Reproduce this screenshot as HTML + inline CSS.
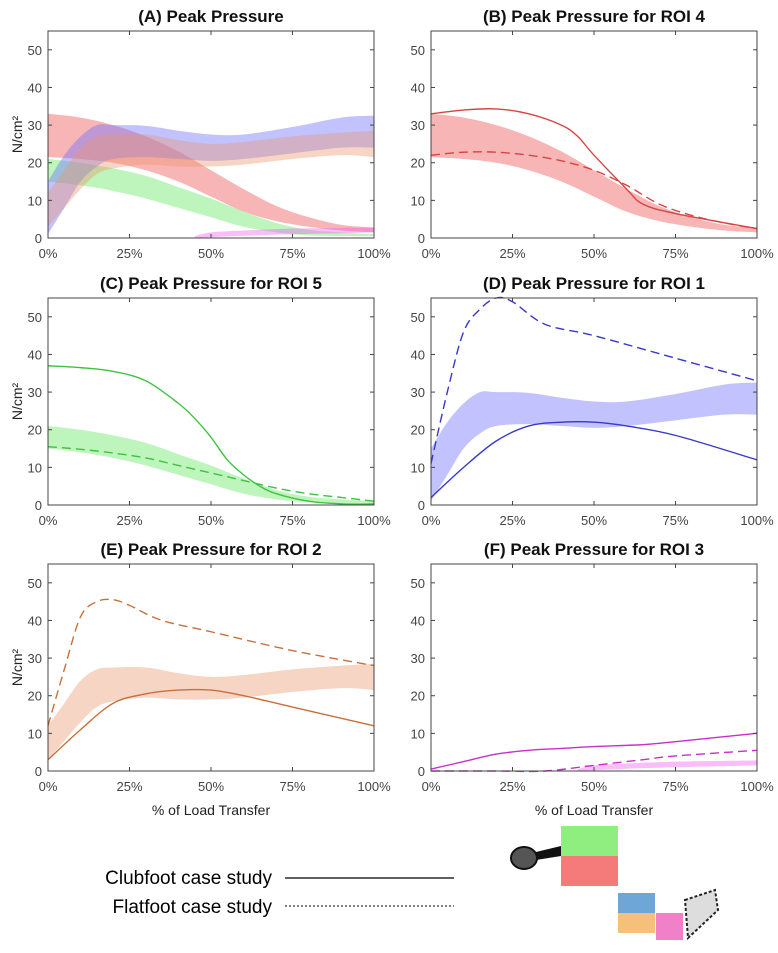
<!DOCTYPE html>
<html><head><meta charset="utf-8"><style>
body{margin:0;background:#fff;width:778px;height:948px;overflow:hidden;font-family:"Liberation Sans",Arial,sans-serif}
svg text{font-family:"Liberation Sans",Arial,sans-serif}
</style></head><body>
<svg id="chart" width="778" height="948" viewBox="0 0 778 948" xmlns="http://www.w3.org/2000/svg"></svg>
<script>
// ---- data ----
const xTicks=[0,25,50,75,100];
const xTickLabels=["0%","25%","50%","75%","100%"];
const yTicks=[0,10,20,30,40,50];
const titles=["(A) Peak Pressure","(B) Peak Pressure for ROI 4","(C) Peak Pressure for ROI 5","(D) Peak Pressure for ROI 1","(E) Peak Pressure for ROI 2","(F) Peak Pressure for ROI 3"];
// ROI 4 (red)
const roi4BandX=[0,10,20,30,40,50,60,70,80,90,100];
const roi4BandUpper=[33,32,30,27,23,18,13,8.5,5.5,3.5,2.8];
const roi4BandLower=[21.5,21,20,18,15,11,7,4.5,3,2,1.5];
const roi4ClubX=[0,10,20,30,40,45,50,60,65,75,100];
const roi4Club=[33,34,34.3,33,30,27,22,13,9,6.5,2.5];
const roi4FlatX=[0,10,20,30,40,50,60,70,80,90,100];
const roi4Flat=[22,22.8,22.8,22,20.5,18,14,9,6,4,2.5];
// ROI 5 (green)
const roi5BandX=[0,10,20,30,40,50,60,70,80,90,100];
const roi5BandUpper=[21,20,18.5,16.5,13.5,10.5,7,4,2.2,1.5,1];
const roi5BandLower=[15,14,12.5,10.5,8,5.5,3,1.5,0.7,0.5,0.5];
const roi5ClubX=[0,10,20,30,40,45,50,55,60,65,70,80,90,100];
const roi5Club=[37,36.5,35.5,33,27,23,18,12,8,5,3,1,0.3,0.3];
const roi5FlatX=[0,10,20,30,40,50,60,70,80,90,100];
const roi5Flat=[15.5,14.8,13.8,12.5,10.5,8.5,6.5,4.5,3,2,1];
// ROI 1 (blue)
const roi1BandX=[0,5,10,15,20,30,40,50,60,75,90,100];
const roi1BandUpper=[15,22,27,30,30,29.8,28.5,27.5,27.5,29.5,32,32.5];
const roi1BandLower=[1,8,15,19,21,21.5,21,20.5,21,22.5,24,24];
const roi1ClubX=[0,10,20,30,40,50,60,75,100];
const roi1Club=[2,10,17,21,22,22,21,18.5,12];
const roi1FlatX=[0,5,10,15,20,25,35,50,75,100];
const roi1Flat=[11,30,46,52,55,54,48,45,39,33];
// ROI 2 (orange)
const roi2BandX=[0,5,10,15,20,30,40,50,60,75,90,100];
const roi2BandUpper=[12,18,24,27,27.5,27.5,26,25,25.5,27,28,28.5];
const roi2BandLower=[3,8,13,17,18.5,19.5,19,19,19.5,21,22,21.5];
const roi2ClubX=[0,10,20,30,40,50,60,75,100];
const roi2Club=[3,11,18,20.5,21.5,21.5,20,17,12];
const roi2FlatX=[0,5,10,15,20,25,35,50,75,100];
const roi2Flat=[12,27,41,45,45.5,44,40,37,32,28];
// ROI 3 (magenta)
const roi3BandX=[45,50,60,75,90,100];
const roi3BandUpper=[0.5,1.5,2,2.5,2.7,2.8];
const roi3BandLower=[0,0.2,0.6,1,1.3,1.5];
const roi3ClubX=[0,10,20,30,40,50,65,75,100];
const roi3Club=[0.5,2.5,4.5,5.5,6,6.5,7,7.8,10];
const roi3FlatX=[0,20,35,50,65,75,100];
const roi3Flat=[0,0,0,1.5,3,4,5.5];

const C={red:["rgba(240,90,90,0.45)","#d84444"],green:["rgba(90,230,90,0.4)","#3fc23f"],blue:["rgba(110,110,255,0.42)","#3838c8"],orange:["rgba(235,150,110,0.4)","#c8703c"],mag:["rgba(240,90,240,0.4)","#c830c8"]};
const series={
 red:{bx:roi4BandX,bu:roi4BandUpper,bl:roi4BandLower,cx:roi4ClubX,c:roi4Club,fx:roi4FlatX,f:roi4Flat},
 green:{bx:roi5BandX,bu:roi5BandUpper,bl:roi5BandLower,cx:roi5ClubX,c:roi5Club,fx:roi5FlatX,f:roi5Flat},
 blue:{bx:roi1BandX,bu:roi1BandUpper,bl:roi1BandLower,cx:roi1ClubX,c:roi1Club,fx:roi1FlatX,f:roi1Flat},
 orange:{bx:roi2BandX,bu:roi2BandUpper,bl:roi2BandLower,cx:roi2ClubX,c:roi2Club,fx:roi2FlatX,f:roi2Flat},
 mag:{bx:roi3BandX,bu:roi3BandUpper,bl:roi3BandLower,cx:roi3ClubX,c:roi3Club,fx:roi3FlatX,f:roi3Flat}
};
const panels=[{keys:["red","green","blue","orange","mag"],lines:false},{keys:["red"],lines:true},{keys:["green"],lines:true},{keys:["blue"],lines:true},{keys:["orange"],lines:true},{keys:["mag"],lines:true}];

const NS="http://www.w3.org/2000/svg";
const svg=document.getElementById('chart');
function mk(tag,attrs,parent){const e=document.createElementNS(NS,tag);for(const k in attrs)e.setAttribute(k,attrs[k]);(parent||svg).appendChild(e);return e;}
function spline(pts){let d="M"+pts[0][0]+","+pts[0][1];for(let i=0;i<pts.length-1;i++){const p0=pts[Math.max(i-1,0)],p1=pts[i],p2=pts[i+1],p3=pts[Math.min(i+2,pts.length-1)];const c1=[p1[0]+(p2[0]-p0[0])/6,p1[1]+(p2[1]-p0[1])/6],c2=[p2[0]-(p3[0]-p1[0])/6,p2[1]-(p3[1]-p1[1])/6];d+=" C"+c1+" "+c2+" "+p2;}return d;}

const colsL=[48,431],W=326,tops=[31,298,564],H=207,YMAX=55;
panels.forEach((p,i)=>{
 const L=colsL[i%2],T=tops[Math.floor(i/2)];
 const sx=v=>L+v/100*W, sy=v=>T+H-v/YMAX*H;
 const g=mk('g',{});
 
 
 const t=mk('text',{x:L+W/2,y:T-9,'text-anchor':'middle','font-size':'17','font-weight':'bold',fill:'#111'},g);
 t.textContent=titles[i];
 
 
 p.keys.forEach(k=>{const s=series[k];
  const up=s.bx.map((x,j)=>[sx(x),sy(s.bu[j])]);const lo=s.bx.map((x,j)=>[sx(x),sy(s.bl[j])]).reverse();
  const d=spline(up)+" L"+spline(lo).slice(1)+" Z";
  const b=mk('path',{d:d,fill:C[k][0],stroke:'none'},g);
  
  
  if(p.lines){
   const l1=mk('path',{d:spline(s.cx.map((x,j)=>[sx(x),sy(s.c[j])])),fill:'none',stroke:C[k][1],'stroke-width':1.4},g);
   
   
   const l2=mk('path',{d:spline(s.fx.map((x,j)=>[sx(x),sy(s.f[j])])),fill:'none',stroke:C[k][1],'stroke-width':1.4,'stroke-dasharray':'9,5'},g);
   
   
  }
 });
 const box=mk('rect',{x:L,y:T,width:W,height:H,fill:'none',stroke:'#444','stroke-width':1},g);
 
 
 yTicks.forEach(v=>{const y=sy(v);mk('line',{x1:L,x2:L+4,y1:y,y2:y,stroke:'#444'},g);mk('line',{x1:L+W-4,x2:L+W,y1:y,y2:y,stroke:'#444'},g);
  const tt=mk('text',{x:L-6,y:y+5,'text-anchor':'end','font-size':'13',fill:'#444'},g);tt.textContent=v;
  
  });
 xTicks.forEach((v,j)=>{const x=sx(v);mk('line',{x1:x,x2:x,y1:T+H,y2:T+H-4,stroke:'#444'},g);mk('line',{x1:x,x2:x,y1:T,y2:T+4,stroke:'#444'},g);
  const tt=mk('text',{x:x,y:T+H+20,'text-anchor':'middle','font-size':'13',fill:'#444'},g);tt.textContent=xTickLabels[j];
  
  });
 if(i%2===0){const yl=mk('text',{x:0,y:0,transform:`translate(22,${T+H/2}) rotate(-90)`,'text-anchor':'middle','font-size':'14',fill:'#222'},g);yl.textContent="N/cm²";
  
  }
 if(i>=4){const xl=mk('text',{x:L+W/2,y:T+H+44,'text-anchor':'middle','font-size':'14',fill:'#222'},g);xl.textContent="% of Load Transfer";
  
  }
});
// legend
const lg=mk('g',{});


const t1=mk('text',{x:272,y:884,'text-anchor':'end','font-size':'19',fill:'#000'},lg);t1.textContent="Clubfoot case study";


const t2=mk('text',{x:272,y:913,'text-anchor':'end','font-size':'19',fill:'#000'},lg);t2.textContent="Flatfoot case study";


const ln1=mk('line',{x1:285,x2:454,y1:878,y2:878,stroke:'#000','stroke-width':1.3},lg);


const ln2=mk('line',{x1:285,x2:454,y1:906,y2:906,stroke:'#000','stroke-width':1,'stroke-dasharray':'2,2'},lg);


// foot icons
const fg=mk('g',{});


[[561,826,57,30,'#90ee80'],[561,856,57,30,'#f57a7a'],[618,893,37,30,'#6fa6d8'],[618,913,37,20,'#f5c07a'],[656,913,27,27,'#f080c8']].forEach(r=>{mk('rect',{x:r[0],y:r[1],width:r[2],height:r[3],fill:r[4]},fg);});
mk('ellipse',{cx:524,cy:858,rx:13,ry:11,fill:'#555',stroke:'#111','stroke-width':2},fg);
mk('path',{d:'M536,852 L561,846 L561,856 L536,860 Z',fill:'#111'},fg);
mk('path',{d:'M685,900 L715,890 L718,910 L688,938 Z',fill:'#ddd',stroke:'#222','stroke-width':2,'stroke-dasharray':'3,2'},fg);
</script>
</body></html>
